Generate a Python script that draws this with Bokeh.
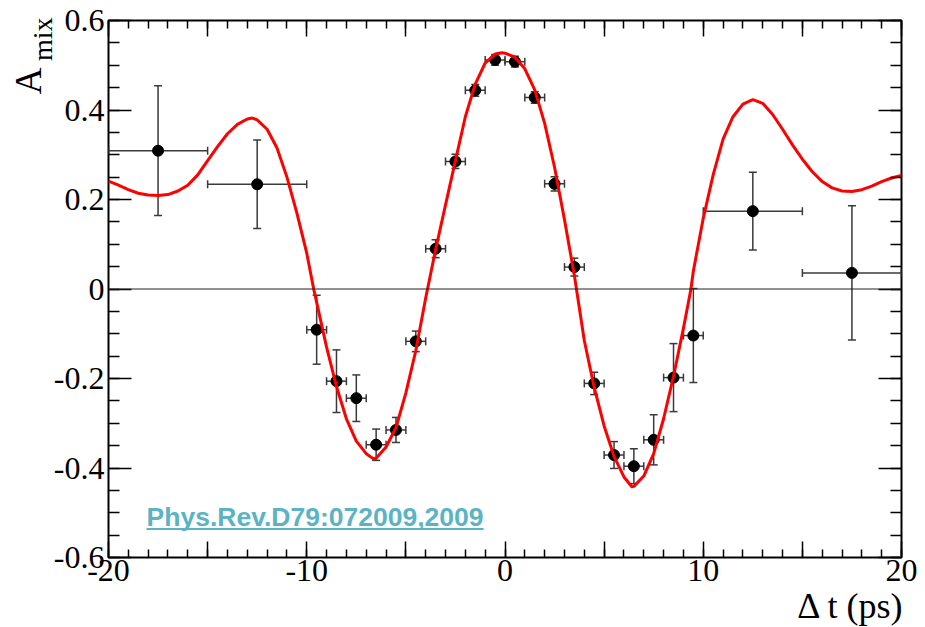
import math
from bokeh.plotting import figure
from bokeh.models import (ColumnDataSource, Range1d, LinearAxis, FixedTicker, Whisker,
                          TeeHead, Span, Label, Title)
from bokeh.embed import file_html
from bokeh.resources import INLINE

# ---------------- data ----------------
bin_center = [-17.5, -12.5,
              -9.5, -8.5, -7.5, -6.5, -5.5, -4.5, -3.5, -2.5, -1.5, -0.5,
              0.5, 1.5, 2.5, 3.5, 4.5, 5.5, 6.5, 7.5, 8.5, 9.5,
              12.5, 17.5]
bin_halfwidth = [2.5, 2.5,
                 0.5, 0.5, 0.5, 0.5, 0.5, 0.5, 0.5, 0.5, 0.5, 0.5,
                 0.5, 0.5, 0.5, 0.5, 0.5, 0.5, 0.5, 0.5, 0.5, 0.5,
                 2.5, 2.5]
a_mix = [0.309, 0.234,
         -0.091, -0.206, -0.244, -0.348, -0.315, -0.117, 0.090, 0.285, 0.444, 0.512,
         0.508, 0.428, 0.235, 0.049, -0.211, -0.371, -0.396, -0.337, -0.198, -0.104,
         0.174, 0.036]
a_err = [0.145, 0.099,
         0.077, 0.070, 0.052, 0.035, 0.028, 0.023, 0.020, 0.016, 0.013, 0.012,
         0.012, 0.013, 0.016, 0.020, 0.025, 0.030, 0.039, 0.056, 0.076, 0.105,
         0.087, 0.150]

fit_t = [-20.0, -19.5, -19.0, -18.5, -18.0, -17.5, -17.0, -16.5, -16.0, -15.5,
         -15.0, -14.5, -14.0, -13.5, -13.0, -12.75, -12.5, -12.0, -11.5, -11.0,
         -10.5, -10.0, -9.65, -9.5, -9.0, -8.5, -8.0, -7.5, -7.0, -6.65,
         -6.5, -6.0, -5.5, -5.0, -4.5, -4.0, -3.5, -3.0, -2.5, -2.0,
         -1.5, -1.0, -0.5, -0.15, 0.0, 0.5, 1.0, 1.5, 2.0, 2.5,
         3.0, 3.5, 4.0, 4.5, 5.0, 5.5, 6.0, 6.4, 6.5, 7.0,
         7.5, 8.0, 8.5, 9.0, 9.38, 9.5, 10.0, 10.5, 11.0, 11.5,
         12.0, 12.5, 13.0, 13.5, 14.0, 14.5, 15.0, 15.5, 16.0, 16.5,
         17.0, 17.5, 18.0, 18.5, 19.0, 19.5, 20.0]
fit_a = [0.241, 0.232, 0.222, 0.214, 0.210, 0.209, 0.211, 0.219, 0.232, 0.255,
         0.287, 0.318, 0.347, 0.368, 0.380, 0.382, 0.378, 0.357, 0.315, 0.250,
         0.170, 0.080, 0.000, -0.030, -0.130, -0.218, -0.290, -0.340, -0.368, -0.379,
         -0.378, -0.353, -0.310, -0.232, -0.138, -0.020, 0.088, 0.188, 0.287, 0.385,
         0.458, 0.505, 0.525, 0.528, 0.527, 0.518, 0.492, 0.445, 0.370, 0.272,
         0.155, 0.030, -0.115, -0.220, -0.306, -0.374, -0.420, -0.442, -0.441, -0.418,
         -0.368, -0.290, -0.195, -0.088, 0.000, 0.040, 0.158, 0.255, 0.335, 0.385,
         0.413, 0.423, 0.415, 0.390, 0.357, 0.322, 0.290, 0.262, 0.240, 0.226,
         0.219, 0.218, 0.222, 0.230, 0.240, 0.248, 0.254]

x_major = [-20, -15, -10, -5, 0, 5, 10, 15, 20]
x_minor = list(range(-20, 21))
x_labels = {-20: "-20", -15: "", -10: "-10", -5: "", 0: "0", 5: "", 10: "10", 15: "", 20: "20"}
y_major = [-0.6, -0.4, -0.2, 0, 0.2, 0.4, 0.6]
y_minor = [-0.6, -0.55, -0.5, -0.45, -0.4, -0.35, -0.3, -0.25, -0.2, -0.15, -0.1, -0.05, 0,
           0.05, 0.1, 0.15, 0.2, 0.25, 0.3, 0.35, 0.4, 0.45, 0.5, 0.55, 0.6]
y_labels = {-0.6: "-0.6", -0.4: "-0.4", -0.2: "-0.2", 0: "0", 0.2: "0.2", 0.4: "0.4", 0.6: "0.6"}

x_title = "\u0394 t (ps)"
y_title_main = "A"
y_title_sub = "mix"
ref_text = "Phys.Rev.D79:072009,2009"

# ---------------- figure ----------------
SERIF = "Liberation Serif"
p = figure(width=925, height=627, output_backend="svg", toolbar_location=None,
           x_range=Range1d(-20, 20), y_range=Range1d(-0.6, 0.6),
           x_axis_type=None, y_axis_type=None,
           min_border_left=108, min_border_right=24, min_border_top=20, min_border_bottom=70)
p.background_fill_color = "white"
p.border_fill_color = "white"
p.outline_line_color = "black"
p.outline_line_width = 2
p.xgrid.visible = False
p.ygrid.visible = False


def make_axis(kind, show_labels):
    ax = LinearAxis()
    if kind == "x":
        ax.ticker = FixedTicker(ticks=x_major, minor_ticks=x_minor)
        ax.major_label_overrides = x_labels
        ax.major_tick_in = 16
        ax.minor_tick_in = 8
    else:
        ax.ticker = FixedTicker(ticks=y_major, minor_ticks=y_minor)
        ax.major_label_overrides = y_labels
        ax.major_tick_in = 23
        ax.minor_tick_in = 11
    ax.major_tick_out = 0
    ax.minor_tick_out = 0
    ax.major_tick_line_color = "black"
    ax.minor_tick_line_color = "black"
    ax.major_tick_line_width = 1.5
    ax.minor_tick_line_width = 1.5
    ax.axis_line_color = None
    ax.major_label_text_font = SERIF
    if show_labels:
        ax.major_label_text_color = "black"
        ax.major_label_text_font_size = "32px"
        ax.major_label_standoff = 4 if kind == "y" else 2
    else:
        ax.major_label_text_color = None
        ax.major_label_text_font_size = "1px"
        ax.major_label_standoff = 0
    return ax


p.add_layout(make_axis("x", True), "below")
p.add_layout(make_axis("y", True), "left")
p.add_layout(make_axis("x", False), "above")
p.add_layout(make_axis("y", False), "right")

# axis titles as Title objects in the side panels
p.add_layout(Title(text=x_title, align="right", text_font=SERIF, text_font_size="36px",
                   text_font_style="normal", text_color="black", standoff=1, offset=-3),
             "below")
p.add_layout(Title(text=y_title_sub, align="right", text_font=SERIF, text_font_size="28px",
                   text_font_style="normal", text_color="black", standoff=-15, offset=-3),
             "left")
p.add_layout(Title(text=y_title_main, align="right", text_font=SERIF, text_font_size="37px",
                   text_font_style="normal", text_color="black", standoff=-32, offset=47),
             "left")

p.add_layout(Span(location=0, dimension="width", line_color="#222222", line_width=1))

src = ColumnDataSource(dict(
    x=bin_center, y=a_mix,
    xl=[c - h for c, h in zip(bin_center, bin_halfwidth)],
    xr=[c + h for c, h in zip(bin_center, bin_halfwidth)],
    yl=[a - e for a, e in zip(a_mix, a_err)],
    yu=[a + e for a, e in zip(a_mix, a_err)],
))

bar_col = "#3a3a3a"
p.add_layout(Whisker(source=src, base="x", lower="yl", upper="yu", dimension="height",
                     line_color=bar_col, line_width=1.5,
                     lower_head=TeeHead(size=8, line_color=bar_col, line_width=1.5),
                     upper_head=TeeHead(size=8, line_color=bar_col, line_width=1.5)))
p.add_layout(Whisker(source=src, base="y", lower="xl", upper="xr", dimension="width",
                     line_color=bar_col, line_width=1.5,
                     lower_head=TeeHead(size=8, line_color=bar_col, line_width=1.5),
                     upper_head=TeeHead(size=8, line_color=bar_col, line_width=1.5)))
p.scatter("x", "y", source=src, size=11, color="black", marker="circle")

p.line(fit_t, fit_a, line_color="#ff0000", line_width=3, line_join="round")

link_col = "#5bb3c4"
p.add_layout(Label(x=-18.08, y=-0.5085, text=ref_text, text_align="left",
                   text_baseline="alphabetic", text_font="Liberation Sans",
                   text_font_style="bold", text_font_size="26.5px", text_color=link_col))
p.segment(x0=[-18.08], y0=[-0.5365], x1=[-1.08], y1=[-0.5365], line_color=link_col, line_width=2)

open("out.html", "w").write(file_html(p, INLINE))
